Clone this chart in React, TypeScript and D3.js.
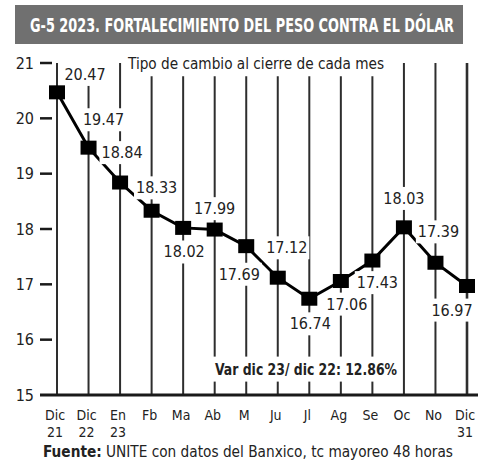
import React, { useEffect, useRef } from 'react';
import * as d3 from 'd3';

// month labels (two lines each) and closing exchange rate
const months = ['Dic 21', 'Dic 22', 'En 23', 'Fb', 'Ma', 'Ab', 'M', 'Ju', 'Jl', 'Ag', 'Se', 'Oc', 'No', 'Dic 31'];
const monthLine1 = ['Dic', 'Dic', 'En', 'Fb', 'Ma', 'Ab', 'M', 'Ju', 'Jl', 'Ag', 'Se', 'Oc', 'No', 'Dic'];
const monthLine2 = ['21', '22', '23', '', '', '', '', '', '', '', '', '', '', '31'];
const rates = [20.47, 19.47, 18.84, 18.33, 18.02, 17.99, 17.69, 17.12, 16.74, 17.06, 17.43, 18.03, 17.39, 16.97];
const yTicks = [15, 16, 17, 18, 19, 20, 21];

// where each value label sits relative to its marker (layout only)
const labelOffsets = [
    [28, -18], [15, -28], [2, -30], [5, -23], [1, 24], [0, -21], [-7, 28],
    [9, -30], [1, 25], [6, 23], [5, 22], [0, -29], [3, -31], [-15, 24]
];

const title = 'G-5 2023. FORTALECIMIENTO DEL PESO CONTRA EL DÓLAR';
const subtitle = 'Tipo de cambio al cierre de cada mes';
const varNote = 'Var dic 23/ dic 22: 12.86%';

const font = "'DejaVu Sans Condensed', 'Liberation Sans Narrow', 'Roboto Condensed', sans-serif";

export default function App() {
    const ref = useRef<SVGSVGElement>(null);
    const width = 478;
    const height = 467;

    useEffect(() => {
        const svg = d3.select(ref.current);
        svg.selectAll('*').remove();

        const x = d3.scalePoint().domain(months).range([57, 467]);
        const y = d3.scaleLinear().domain([15, 21]).range([395, 63]);

        // title bar
        svg.append('rect')
            .attr('x', 15).attr('y', 5).attr('width', 448).attr('height', 39)
            .attr('fill', '#707070');
        svg.append('text')
            .attr('x', 30).attr('y', 32)
            .attr('font-family', font).attr('font-weight', 'bold').attr('font-size', 19)
            .attr('fill', '#fff')
            .attr('textLength', 424).attr('lengthAdjust', 'spacingAndGlyphs')
            .text(title);

        const grid = svg.append('g');
        const lineG = svg.append('g');
        const knock = svg.append('g');
        const labels = svg.append('g');
        const markers = svg.append('g');

        // vertical month lines
        grid.selectAll('line')
            .data(months)
            .enter().append('line')
            .attr('x1', d => x(d)!).attr('x2', d => x(d)!)
            .attr('y1', y(21)).attr('y2', y(15))
            .attr('stroke', '#2e2e2e')
            .attr('stroke-width', (d, i) => (i === months.length - 1 ? 2.6 : 2));

        // baseline
        grid.append('line')
            .attr('x1', 40).attr('x2', 478)
            .attr('y1', y(15)).attr('y2', y(15))
            .attr('stroke', '#1a1a1a').attr('stroke-width', 3);

        // y ticks
        const yAxis = svg.append('g');
        yAxis.selectAll('line')
            .data(yTicks.filter(t => t !== 15))
            .enter().append('line')
            .attr('x1', 40).attr('x2', 52)
            .attr('y1', d => y(d)).attr('y2', d => y(d))
            .attr('stroke', '#1a1a1a').attr('stroke-width', 2.5);
        yAxis.selectAll('text')
            .data(yTicks)
            .enter().append('text')
            .attr('x', 34).attr('y', d => y(d))
            .attr('dy', '0.35em')
            .attr('text-anchor', 'end')
            .attr('font-family', font).attr('font-size', 16).attr('fill', '#222')
            .text(d => d);

        // series line
        const line = d3.line<number>()
            .x((d, i) => x(months[i])!)
            .y(d => y(d));
        lineG.append('path')
            .datum(rates)
            .attr('d', line)
            .attr('fill', 'none')
            .attr('stroke', '#000')
            .attr('stroke-width', 3);

        const addLabel = (tx: number, ty: number, txt: string, size: number, bold: boolean, pad: number, len?: number) => {
            const t = labels.append('text')
                .attr('x', tx).attr('y', ty)
                .attr('dy', '0.35em')
                .attr('text-anchor', 'middle')
                .attr('font-family', font).attr('font-size', size)
                .attr('font-weight', bold ? 'bold' : 'normal')
                .attr('fill', '#222')
                .text(txt);
            if (len) t.attr('textLength', len).attr('lengthAdjust', 'spacingAndGlyphs');
            const b = (t.node() as SVGTextElement).getBBox();
            knock.append('rect')
                .attr('x', b.x - pad).attr('y', b.y - pad)
                .attr('width', b.width + pad * 2).attr('height', b.height + pad * 2)
                .attr('fill', '#fff');
        };

        // subtitle
        addLabel(256, 64, subtitle, 15, false, 3, 256);

        // value labels
        rates.forEach((v, i) => {
            const [dx, dy] = labelOffsets[i];
            addLabel(x(months[i])! + dx, y(v) + dy, v.toFixed(2), 16, false, 2);
        });

        // variation note
        addLabel(306, 369, varNote, 16, true, 3, 182);

        // markers
        markers.selectAll('rect')
            .data(rates)
            .enter().append('rect')
            .attr('x', (d, i) => x(months[i])! - 8)
            .attr('y', d => y(d) - 7)
            .attr('width', 16).attr('height', 14)
            .attr('fill', '#000');

        // x labels
        const xl = svg.append('g')
            .attr('font-family', font).attr('font-size', 14).attr('fill', '#222')
            .attr('text-anchor', 'middle');
        xl.selectAll('text.l1')
            .data(monthLine1)
            .enter().append('text')
            .attr('class', 'l1')
            .attr('x', (d, i) => x(months[i])! - 2)
            .attr('y', 420)
            .text(d => d);
        xl.selectAll('text.l2')
            .data(monthLine2)
            .enter().append('text')
            .attr('class', 'l2')
            .attr('x', (d, i) => x(months[i])! - 2)
            .attr('y', 437)
            .text(d => d);

        // source
        const src = svg.append('text')
            .attr('x', 43).attr('y', 457)
            .attr('font-family', font).attr('font-size', 15).attr('fill', '#222')
            .attr('textLength', 410).attr('lengthAdjust', 'spacingAndGlyphs');
        src.append('tspan').attr('font-weight', 'bold').text('Fuente:');
        src.append('tspan').text(' UNITE con datos del Banxico, tc mayoreo 48 horas');
    }, []);

    return (
        <svg ref={ref} width={width} height={height}
            style={{ position: 'absolute', left: 0, top: 0, background: '#fff' }} />
    );
}
